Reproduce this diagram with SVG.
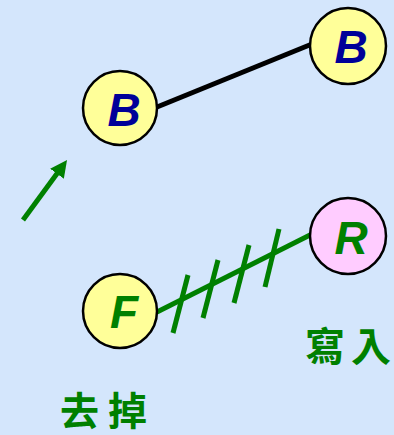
<svg xmlns="http://www.w3.org/2000/svg" width="394" height="435" viewBox="0 0 394 435">
<defs>
<style>
.node circle{stroke:#000;stroke-width:2.5}
.y{fill:#FFFF99}
.p{fill:#FFCCFF}
.lbl{font-family:"Liberation Sans",Arial,sans-serif;font-weight:bold;font-style:italic;font-size:46px;text-anchor:middle}
.blue{fill:#000099}
.green{fill:#008000}
.cjk{font-family:"Noto Sans CJK TC","Noto Sans CJK SC",sans-serif;font-weight:bold;font-size:40px;fill:#008000}
.g{stroke:#008000;stroke-width:5;fill:none}
</style>
<marker id="ah" viewBox="0 0 10 10" refX="4.1" refY="5" markerWidth="3.4" markerHeight="3.4" orient="auto" markerUnits="strokeWidth">
<path d="M0,0 L10,5 L0,10 z" fill="#008000"/>
</marker>
</defs>
<rect width="394" height="435" fill="#D4E6FC"/>
<g id="connectors">
<line x1="157" y1="107" x2="312" y2="44" stroke="#000" stroke-width="5"/>
<line class="g" x1="23" y1="220" x2="61.1" y2="168.1" marker-end="url(#ah)"/>
<line class="g" x1="157" y1="312" x2="312" y2="234"/>
<line class="g" x1="188" y1="275" x2="173" y2="333"/>
<line class="g" x1="218" y1="260" x2="203" y2="318"/>
<line class="g" x1="249" y1="245" x2="234" y2="303"/>
<line class="g" x1="279" y1="229" x2="265" y2="287"/>
</g>
<g id="nodeB1" class="node"><circle class="y" cx="120" cy="108" r="37"/><text class="lbl blue" x="124" y="126">B</text></g>
<g id="nodeB2" class="node"><circle class="y" cx="348" cy="46" r="38"/><text class="lbl blue" x="351" y="63">B</text></g>
<g id="nodeR" class="node"><circle class="p" cx="348" cy="236" r="38"/><text class="lbl green" x="351" y="254">R</text></g>
<g id="nodeF" class="node"><circle class="y" cx="120" cy="311" r="37"/><text class="lbl green" x="124" y="328">F</text></g>
<text class="cjk" y="361"><tspan x="305">寫</tspan><tspan x="351">入</tspan></text>
<text class="cjk" y="425" style="font-size:39px"><tspan x="60">去</tspan><tspan x="108">掉</tspan></text>
</svg>
